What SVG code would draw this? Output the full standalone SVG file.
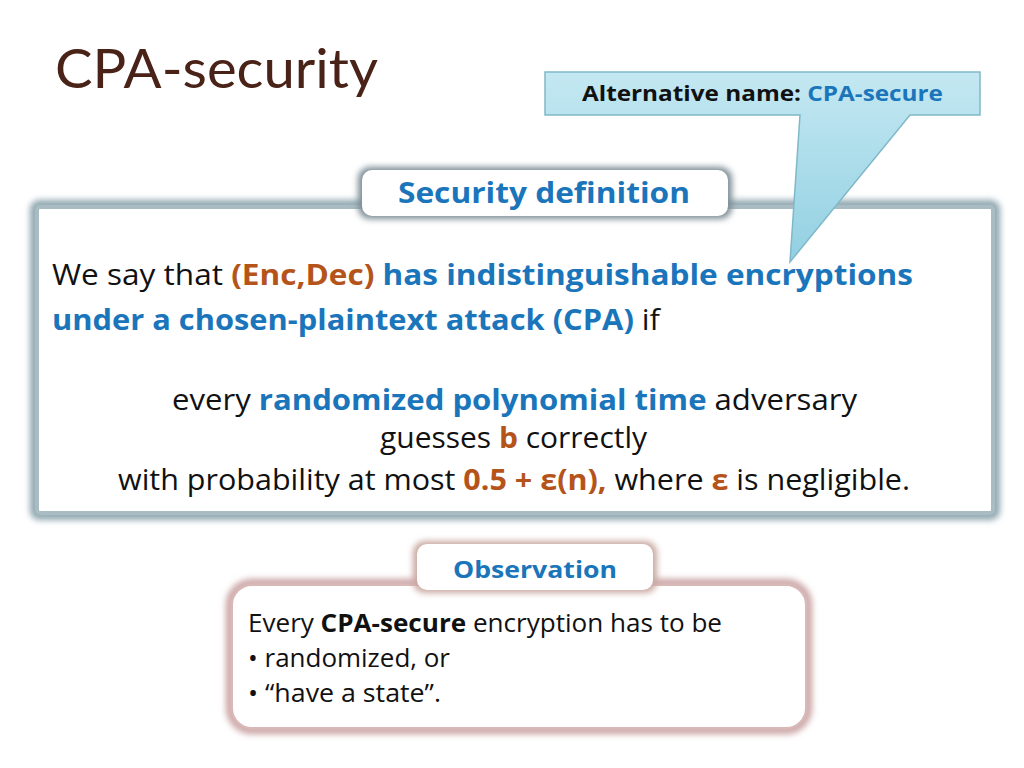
<svg xmlns="http://www.w3.org/2000/svg" width="1024" height="768" viewBox="0 0 1024 768">
<defs>
<linearGradient id="cg" x1="0" y1="0" x2="0" y2="1"><stop offset="0" stop-color="#c4e8f2"/><stop offset="1" stop-color="#92d0e2"/></linearGradient>
<filter id="sh" x="-10%" y="-10%" width="120%" height="130%"><feGaussianBlur stdDeviation="3"/></filter>
</defs>
<style>
text{font-family:"Open Sans","Liberation Sans",sans-serif;fill:#111}
.b{font-weight:bold}.bl{fill:#1a75bb;font-weight:bold}.br{fill:#b5541a;font-weight:bold}
</style>
<rect width="1024" height="768" fill="#fff"/>
<text x="55" y="88" textLength="323" lengthAdjust="spacingAndGlyphs" style="font-family:Lato,'Open Sans',sans-serif;font-size:54px;fill:#4a2318">CPA-security</text>
<g id="main">
<rect x="35" y="205" width="960" height="310" rx="4" fill="none" stroke="#8fa6b0" stroke-width="10" filter="url(#sh)"/>
<rect x="37" y="207" width="956" height="306" rx="3" fill="#fff" stroke="#a9bcc4" stroke-width="4"/>
<rect x="358" y="167" width="374" height="52" rx="12" fill="#7d8c95" filter="url(#sh)"/>
<rect x="362" y="170" width="366" height="46" rx="10" fill="#fff"/>
<text x="398" y="203" textLength="292" lengthAdjust="spacingAndGlyphs" class="bl" style="font-size:29px">Security definition</text>
<text x="52" y="285" textLength="861" lengthAdjust="spacingAndGlyphs" style="font-size:29px">We say that <tspan class="br">(Enc,Dec)</tspan> <tspan class="bl">has indistinguishable encryptions</tspan></text>
<text x="52" y="330" textLength="608" lengthAdjust="spacingAndGlyphs" style="font-size:29px"><tspan class="bl">under a chosen-plaintext attack (CPA)</tspan> if</text>
<text x="172" y="410" textLength="685" lengthAdjust="spacingAndGlyphs" style="font-size:29px">every <tspan class="bl">randomized polynomial time</tspan> adversary</text>
<text x="380" y="448" textLength="267" lengthAdjust="spacingAndGlyphs" style="font-size:29px">guesses <tspan class="br">b</tspan> correctly</text>
<text x="118" y="490" textLength="792" lengthAdjust="spacingAndGlyphs" style="font-size:29px">with probability at most <tspan class="br">0.5 + ε(n),</tspan> where <tspan class="br">ε</tspan> is negligible.</text>
</g>
<g id="callout">
<path d="M545 72 H980 V115 H910 L790 262 L800 115 H545 Z" fill="url(#cg)" stroke="#7fb8c8" stroke-width="1.5"/>
<text x="582" y="101" textLength="361" lengthAdjust="spacingAndGlyphs" class="b" style="font-size:22px">Alternative name: <tspan class="bl">CPA-secure</tspan></text>
</g>
<g id="observation">
<rect x="230" y="583" width="578" height="147" rx="22" fill="none" stroke="#c9a0a0" stroke-width="8" filter="url(#sh)"/>
<rect x="232" y="585" width="574" height="143" rx="20" fill="#fff" stroke="#d9b8b8" stroke-width="2"/>
<rect x="413" y="541" width="244" height="52" rx="12" fill="#c9a8a0" filter="url(#sh)"/>
<rect x="417" y="544" width="236" height="46" rx="10" fill="#fff"/>
<text x="453" y="578" textLength="164" lengthAdjust="spacingAndGlyphs" class="bl" style="font-size:24px">Observation</text>
<text x="248" y="632" textLength="474" lengthAdjust="spacingAndGlyphs" style="font-size:25px">Every <tspan class="b">CPA-secure</tspan> encryption has to be</text>
<text x="248" y="667" textLength="202" lengthAdjust="spacingAndGlyphs" style="font-size:25px">•  randomized, or</text>
<text x="248" y="702" textLength="193" lengthAdjust="spacingAndGlyphs" style="font-size:25px">•  “have a state”.</text>
</g>
</svg>
